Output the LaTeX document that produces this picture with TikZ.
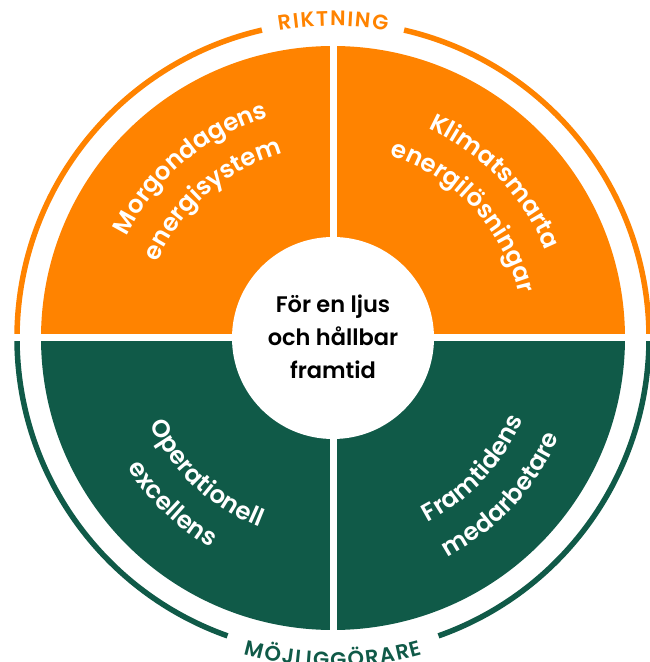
\documentclass[tikz,border=0pt]{standalone}
\usepackage{fontspec}
\setmainfont{Poppins}[BoldFont={Poppins SemiBold}]
\usetikzlibrary{decorations.text}
\definecolor{vorange}{RGB}{255,131,0}
\definecolor{vgreen}{RGB}{16,90,72}
\newcommand\qfont{\bfseries\fontsize{24.5}{28}\selectfont}
\newcommand\rfont{\bfseries\fontsize{21}{24}\selectfont}
\begin{document}
\begin{tikzpicture}[x=1pt,y=1pt,
  ringarc/.style={line width=5.5pt},
  qtext/.style={decorate, decoration={text along path, text align=center, text color=white}},
  ]
\useasboundingbox (0,0) rectangle (650,662);
\begin{scope}[shift={(333,324)}]
\coordinate (C) at (0,0);
% quadrants
\fill[vorange] (C) -- (0:292) arc[start angle=0,end angle=180,radius=292] -- cycle;
\fill[vgreen] (C) -- (180:292) arc[start angle=180,end angle=360,radius=292] -- cycle;
% ring
\draw[vorange, ringarc] (0:316) arc[start angle=0,end angle=77,radius=316];
\draw[vorange, ringarc] (103:316) arc[start angle=103,end angle=180,radius=316];
\draw[vgreen, ringarc] (180:316) arc[start angle=180,end angle=250.5,radius=316];
\draw[vgreen, ringarc] (289.5:316) arc[start angle=289.5,end angle=360,radius=316];
% white gaps
\fill[white] (-340,-3.5) rectangle (340,3.5);
\fill[white] (-3.5,-296) rectangle (3.5,296);
% inner circle
\fill[white] (C) circle[radius=101];
\node[align=center, font=\bfseries\fontsize{22.5}{33}\selectfont, inner sep=0pt] (mid) at (0,1) {För en ljus\\och hållbar\\framtid};
% quadrant texts
\path[qtext, decoration={text={|\qfont|Morgondagens}}] (175:230) arc[start angle=175,end angle=85,radius=230];
\path[qtext, decoration={text={|\qfont|energisystem}}] (176:191) arc[start angle=176,end angle=86,radius=191];
\path[qtext, decoration={text={|\qfont|Klimatsmarta}}] (89:230) arc[start angle=89,end angle=-1,radius=230];
\path[qtext, decoration={text={|\qfont|energilösningar}}] (88:191) arc[start angle=88,end angle=-2,radius=191];
\path[qtext, decoration={text={|\qfont|Operationell}}] (182:203) arc[start angle=182,end angle=272,radius=203];
\path[qtext, decoration={text={|\qfont|excellens}}] (181:243) arc[start angle=181,end angle=271,radius=243];
\path[qtext, decoration={text={|\qfont|Framtidens}}] (272:207) arc[start angle=272,end angle=362,radius=207];
\path[qtext, decoration={text={|\qfont|medarbetare}}] (272:247) arc[start angle=272,end angle=362,radius=247];
% ring labels
\path[decorate, decoration={text along path, text align=center, text color=vorange,
  text={|\rfont|R{\kern1.5pt}I{\kern1.5pt}K{\kern1.5pt}T{\kern1.5pt}N{\kern1.5pt}I{\kern1.5pt}N{\kern1.5pt}G}}]
  (135:312) arc[start angle=135,end angle=45,radius=312];
\path[decorate, decoration={text along path, text align=center, text color=vgreen,
  text={|\rfont|M{\kern1.5pt}Ö{\kern1.5pt}J{\kern1.5pt}L{\kern1.5pt}I{\kern1.5pt}G{\kern1.5pt}G{\kern1.5pt}Ö{\kern1.5pt}R{\kern1.5pt}A{\kern1.5pt}R{\kern1.5pt}E}}]
  (225:329) arc[start angle=225,end angle=315,radius=329];
\end{scope}
\end{tikzpicture}
\end{document}
